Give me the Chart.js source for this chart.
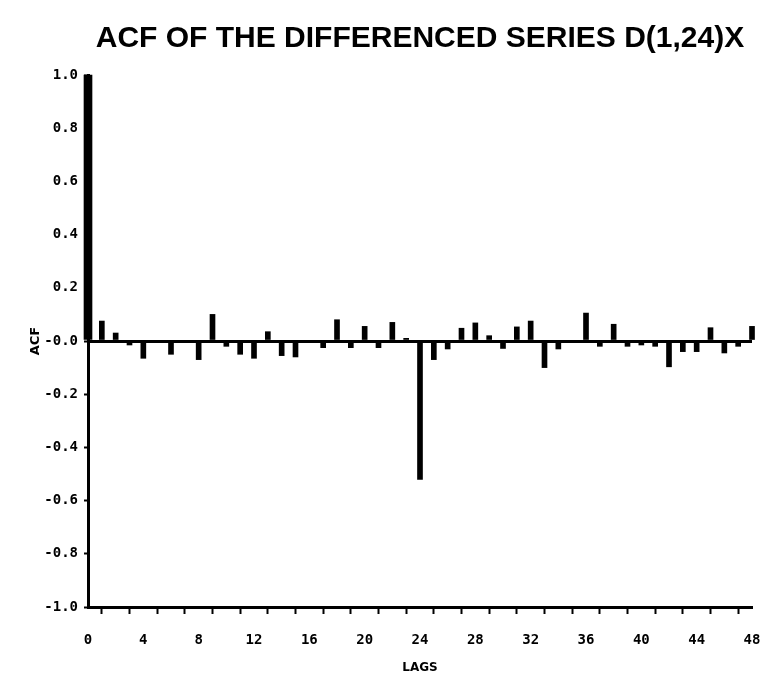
<!DOCTYPE html>
<html>
<head>
<meta charset="utf-8">
<script src="https://cdn.jsdelivr.net/npm/chart.js@4.4.1/dist/chart.umd.min.js"></script>
<style>
  body { margin: 0; background: #fff; }
  #wrap { width: 760px; height: 684px; }
</style>
</head>
<body>
<div id="wrap"><canvas id="chart"></canvas></div>
<script>
// ACF values, lags 0..48
const lags = [];
for (let i = 0; i <= 48; i++) lags.push(i);
const acf = [
  1.0, 0.075, 0.03, -0.015, -0.065, 0.0, -0.05, 0.0, -0.07, 0.10,
  -0.02, -0.05, -0.065, 0.035, -0.055, -0.06, 0.0, -0.025, 0.08, -0.025,
  0.055, -0.025, 0.07, 0.01, -0.52, -0.07, -0.03, 0.048, 0.068, 0.02,
  -0.028, 0.053, 0.075, -0.10, -0.03, 0.0, 0.105, -0.02, 0.063, -0.02,
  -0.015, -0.02, -0.097, -0.04, -0.04, 0.05, -0.045, -0.02, 0.055
];
const xLabelEvery = 4;
const yTicks = [1.0, 0.8, 0.6, 0.4, 0.2, 0.0, -0.2, -0.4, -0.6, -0.8, -1.0];

const points = lags.map((l, i) => ({ x: l, y: acf[i] }));
const tickFont = { family: "'DejaVu Sans Mono'", size: 14, weight: 'bold' };

new Chart(document.getElementById("chart"), {
  type: 'bar',
  data: {
    datasets: [
      {
        data: points.slice(0, 1),
        backgroundColor: '#000',
        barThickness: 8,
        clip: false
      },
      {
        data: points.slice(1),
        backgroundColor: '#000',
        barThickness: 5,
        clip: false
      }
    ]
  },
  options: {
    responsive: true,
    maintainAspectRatio: false,
    animation: false,
    grouped: false,
    layout: { padding: { left: 0, right: 8, top: 0, bottom: 0 } },
    plugins: {
      legend: { display: false },
      tooltip: { enabled: false },
      title: {
        display: true,
        fullSize: false,
        text: 'ACF OF THE DIFFERENCED SERIES D(1,24)X',
        color: '#000',
        font: { family: "'Liberation Sans'", size: 30, weight: 'bold' },
        padding: { top: 21, bottom: 18 }
      }
    },
    scales: {
      x: {
        type: 'linear',
        offset: false,
        min: 0,
        max: 48,
        afterFit: s => { s.height = 77; s.paddingRight = 0; s.paddingLeft = 0; },
        border: { color: '#000', width: 3 },
        grid: { drawOnChartArea: false, color: '#000', tickLength: 7, tickWidth: 2 },
        ticks: {
          stepSize: 2,
          autoSkip: false,
          maxRotation: 0,
          color: '#000',
          font: tickFont,
          padding: 18,
          callback: v => (v % xLabelEvery === 0 ? String(v) : '')
        },
        title: {
          display: true,
          text: 'LAGS',
          color: '#000',
          font: { family: "'DejaVu Sans'", size: 12, weight: 'bold' },
          padding: { top: 0, bottom: 9 }
        }
      },
      y: {
        min: -1,
        max: 1,
        afterFit: s => { s.width = 88; s.paddingTop = 0; s.paddingBottom = 0; },
        afterBuildTicks: s => { s.ticks = yTicks.map(v => ({ value: v })); },
        border: { color: '#000', width: 3 },
        grid: {
          color: c => (c.tick && Math.abs(c.tick.value) < 1e-9 ? '#000' : 'rgba(0,0,0,0)'),
          lineWidth: 3,
          tickColor: '#000',
          tickLength: 4,
          tickWidth: 2
        },
        ticks: {
          color: '#000',
          font: tickFont,
          padding: 6,
          callback: v => (Math.abs(v) < 1e-9 ? '-0.0' : v.toFixed(1))
        },
        title: {
          display: true,
          text: 'ACF',
          color: '#000',
          font: { family: "'DejaVu Sans'", size: 13, weight: 'bold' },
          padding: { top: 28, bottom: 0 }
        }
      }
    }
  }
});
</script>
</body>
</html>
